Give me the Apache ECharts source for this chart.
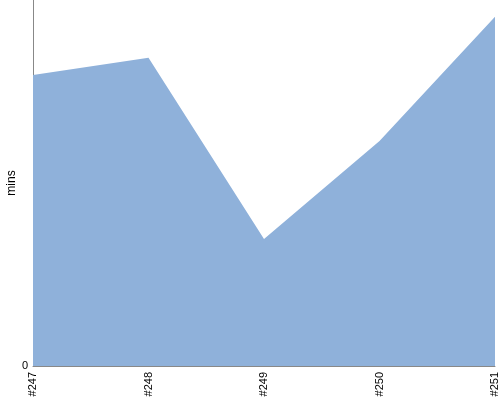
<!DOCTYPE html>
<html><head><meta charset="utf-8">
<script src="https://cdn.jsdelivr.net/npm/echarts@6/dist/echarts.min.js"></script>
<style>html,body{margin:0;padding:0;background:#fff}#c{width:500px;height:400px}</style>
</head><body><div id="c"></div>
<script>
const categories = ['#247', '#248', '#249', '#250', '#251'];
const mins = [79.5, 84.2, 34.7, 61.5, 95.4];
const yMax = 100;

const chart = echarts.init(document.getElementById('c'), null, {renderer: 'canvas'});
chart.setOption({
  animation: false,
  grid: {left: 33, right: 5, top: 0, bottom: 34, containLabel: false, outerBoundsMode: 'none'},
  xAxis: {
    type: 'category', data: categories, boundaryGap: false,
    axisLine: {lineStyle: {color: '#888', width: 1}},
    axisTick: {show: false},
    axisLabel: {rotate: 90, color: '#000', fontFamily: 'Liberation Sans, Arial, sans-serif', fontSize: 11, margin: 6, interval: 0}
  },
  yAxis: {
    type: 'value', min: 0, max: yMax, interval: yMax,
    name: 'mins', nameLocation: 'middle', nameGap: 15, nameRotate: 90, nameMoveOverlap: false,
    nameTextStyle: {color: '#000', fontFamily: 'Liberation Sans, Arial, sans-serif', fontSize: 12},
    axisLine: {show: true, lineStyle: {color: '#888', width: 1}},
    axisTick: {show: false},
    splitLine: {show: false},
    axisLabel: {color: '#000', fontFamily: 'Liberation Sans, Arial, sans-serif', fontSize: 11, margin: 5,
      formatter: v => v === 0 ? '0' : ''}
  },
  series: [{
    type: 'line', data: mins, symbol: 'none',
    lineStyle: {width: 0},
    areaStyle: {color: '#8fb1da', opacity: 1}
  }]
});
</script></body></html>
